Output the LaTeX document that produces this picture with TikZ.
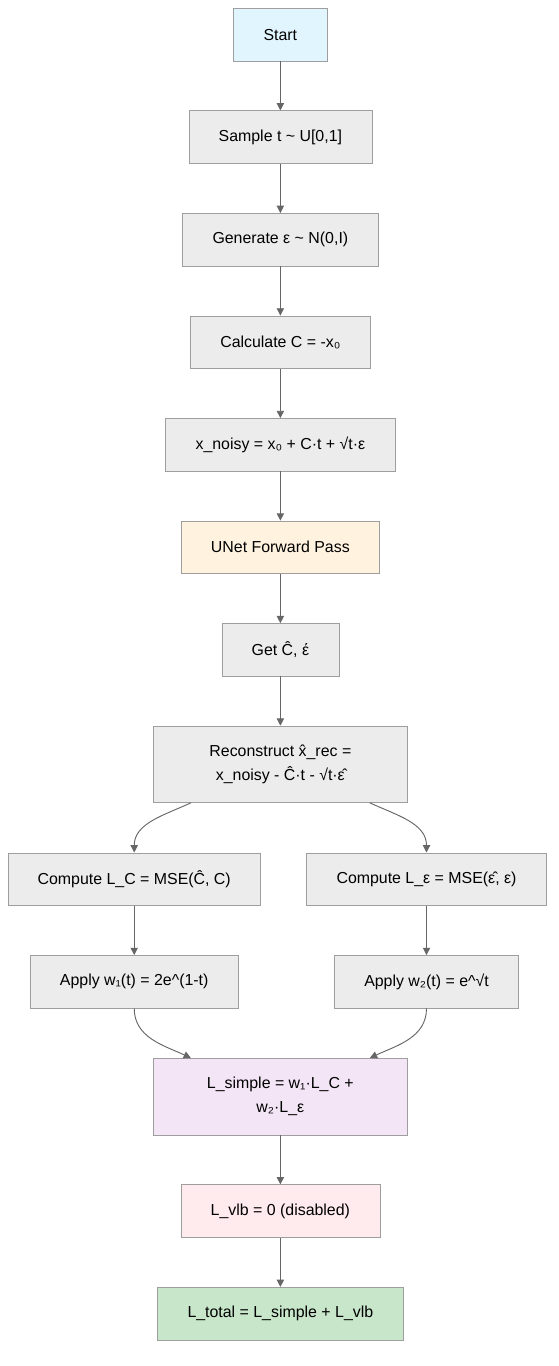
\documentclass[tikz,border=0pt]{standalone}
\usepackage{fontspec}
\setmainfont{Liberation Sans}
\usetikzlibrary{positioning, arrows.meta}
\definecolor{boxfill}{HTML}{ECECEC}
\definecolor{boxline}{HTML}{9E9E9E}
\definecolor{startfill}{HTML}{E1F5FE}
\definecolor{unetfill}{HTML}{FFF3E0}
\definecolor{simplefill}{HTML}{F3E5F5}
\definecolor{vlbfill}{HTML}{FFEBEE}
\definecolor{totalfill}{HTML}{C8E6C9}
\definecolor{linkgray}{HTML}{666666}
\tikzset{
  box/.style={draw=boxline, fill=boxfill, rectangle, minimum height=39.75pt,
    inner xsep=22.5pt, align=center, font=\fontsize{12pt}{18pt}\selectfont},
  tallbox/.style={box, minimum height=57.75pt, minimum width=192pt},
  arrow/.style={draw=linkgray, line width=0.7pt, -{Triangle[length=5.5pt, width=5.5pt]}}
}

\begin{document}
\begin{tikzpicture}[node distance=37.2pt]
    % Nodes
    \node[box, fill=startfill] (start) {Start};
    \node[box, below=of start] (sample) {Sample t \textasciitilde{} U[0,1]};
    \node[box, below=of sample] (noise) {Generate ε \textasciitilde{} N(0,I)};
    \node[box, below=of noise] (calc) {Calculate C = -x₀};
    \node[box, below=of calc] (noisy) {x\_noisy = x₀ + C·t + √t·ε};
    \node[box, fill=unetfill, below=of noisy] (unet) {UNet Forward Pass};
    \node[box, below=of unet] (get) {Get Ĉ, έ};
    \node[tallbox, below=of get] (rec) {Reconstruct x̂\_rec =\\ x\_noisy - Ĉ·t - √t·ε̂};
    \node[box, below=37.5pt of rec, xshift=-110.25pt] (lossc) {Compute L\_C = MSE(Ĉ, C)};
    \node[box, below=37.5pt of rec, xshift=110.25pt] (losse) {Compute L\_ε = MSE(ε̂, ε)};
    \node[box, below=of lossc] (wone) {Apply w₁(t) = 2e\textasciicircum(1-t)};
    \node[box, below=of losse] (wtwo) {Apply w₂(t) = e\textasciicircum√t};
    \node[tallbox, fill=simplefill, below=37.5pt of wone, xshift=110.25pt] (simple) {L\_simple = w₁·L\_C +\\ w₂·L\_ε};
    \node[box, fill=vlbfill, below=of simple] (vlb) {L\_vlb = 0 (disabled)};
    \node[box, fill=totalfill, below=of vlb] (total) {L\_total = L\_simple + L\_vlb};

    % Edges
    \draw[arrow] (start) -- (sample);
    \draw[arrow] (sample) -- (noise);
    \draw[arrow] (noise) -- (calc);
    \draw[arrow] (calc) -- (noisy);
    \draw[arrow] (noisy) -- (unet);
    \draw[arrow] (unet) -- (get);
    \draw[arrow] (get) -- (rec);
    \draw[arrow] ([xshift=-67.5pt]rec.south) to[out=205, in=90] (lossc.north);
    \draw[arrow] ([xshift=67.5pt]rec.south) to[out=-25, in=90] (losse.north);
    \draw[arrow] (lossc) -- (wone);
    \draw[arrow] (losse) -- (wtwo);
    \draw[arrow] (wone.south) to[out=-90, in=155] ([xshift=-67.5pt]simple.north);
    \draw[arrow] (wtwo.south) to[out=-90, in=25] ([xshift=67.5pt]simple.north);
    \draw[arrow] (simple) -- (vlb);
    \draw[arrow] (vlb) -- (total);

    \useasboundingbox ([shift={(-211.5pt,6pt)}]start.north) rectangle ([shift={(210pt,-19.5pt)}]total.south);
\end{tikzpicture}
\end{document}
